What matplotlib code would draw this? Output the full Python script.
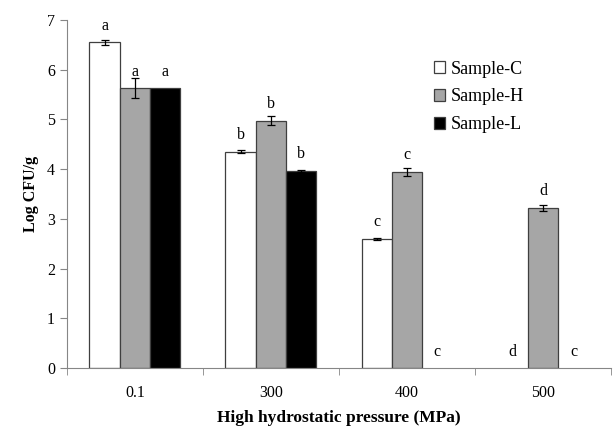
import numpy as np
import matplotlib.pyplot as plt

plt.rcParams['font.family'] = ['Liberation Serif', 'DejaVu Serif']

pressure = ["0.1", "300", "400", "500"]
samples = ["Sample-C", "Sample-H", "Sample-L"]
sample_c = [6.55, 4.35, 2.60, 0.0]
sample_h = [5.63, 4.97, 3.95, 3.22]
sample_l = [5.63, 3.97, 0.0, 0.0]
err_c = [0.05, 0.03, 0.02, 0.0]
err_h = [0.21, 0.09, 0.08, 0.06]
err_l = [0.0, 0.02, 0.0, 0.0]
letters_c = ["a", "b", "c", "d"]
letters_h = ["a", "b", "c", "d"]
letters_l = ["a", "b", "c", "c"]

colors = ["white", "#a6a6a6", "black"]
values = [sample_c, sample_h, sample_l]
errors = [err_c, err_h, err_l]
letters = [letters_c, letters_h, letters_l]

fig = plt.figure(figsize=(6.13, 4.33), dpi=100)
ax = fig.add_axes([0.109, 0.150, 0.888, 0.804])

x = np.arange(len(pressure))
width = 0.223
for i in range(3):
    pos = x + (i - 1) * width
    v = np.array(values[i])
    e = np.array(errors[i])
    lw = np.where(v > 0, 0.9, 0.0)
    ax.bar(pos, v, width, color=colors[i], edgecolor="#3f3f3f",
           linewidth=lw, label=samples[i], zorder=2)
    m = e > 0
    ax.errorbar(pos[m], v[m], yerr=e[m], fmt="none", ecolor="black",
                elinewidth=0.9, capsize=3, capthick=0.9, zorder=3)
    for p, val, s in zip(pos, v, letters[i]):
        ax.text(p, val + 0.33, s, ha="center", va="center", fontsize=11.5)

ax.set_xlim(-0.5, 3.5)
ax.set_ylim(0, 7)
ax.set_yticks(range(0, 8))
ax.set_xticks(x)
ax.set_xticklabels(pressure)
ax.set_xticks(np.arange(-0.5, 4.0, 1), minor=True)
ax.tick_params(axis="x", which="major", length=0, pad=12, labelsize=11.5)
ax.tick_params(axis="x", which="minor", length=5, color="#868686", direction="out")
ax.tick_params(axis="y", length=5, color="#868686", labelsize=11.5)

for side in ["top", "right"]:
    ax.spines[side].set_visible(False)
for side in ["left", "bottom"]:
    ax.spines[side].set_color("#868686")

ax.set_xlabel("High hydrostatic pressure (MPa)", fontsize=12.5, fontweight="bold", labelpad=7)
ax.set_ylabel("Log CFU/g", fontsize=11.5, fontweight="bold", labelpad=6)

leg = ax.legend(loc="upper left", bbox_to_anchor=(0.645, 0.93), frameon=False,
                fontsize=13, handlelength=0.6, handleheight=0.6, handletextpad=0.3,
                labelspacing=0.6)

fig.savefig("out.png", dpi=100)
